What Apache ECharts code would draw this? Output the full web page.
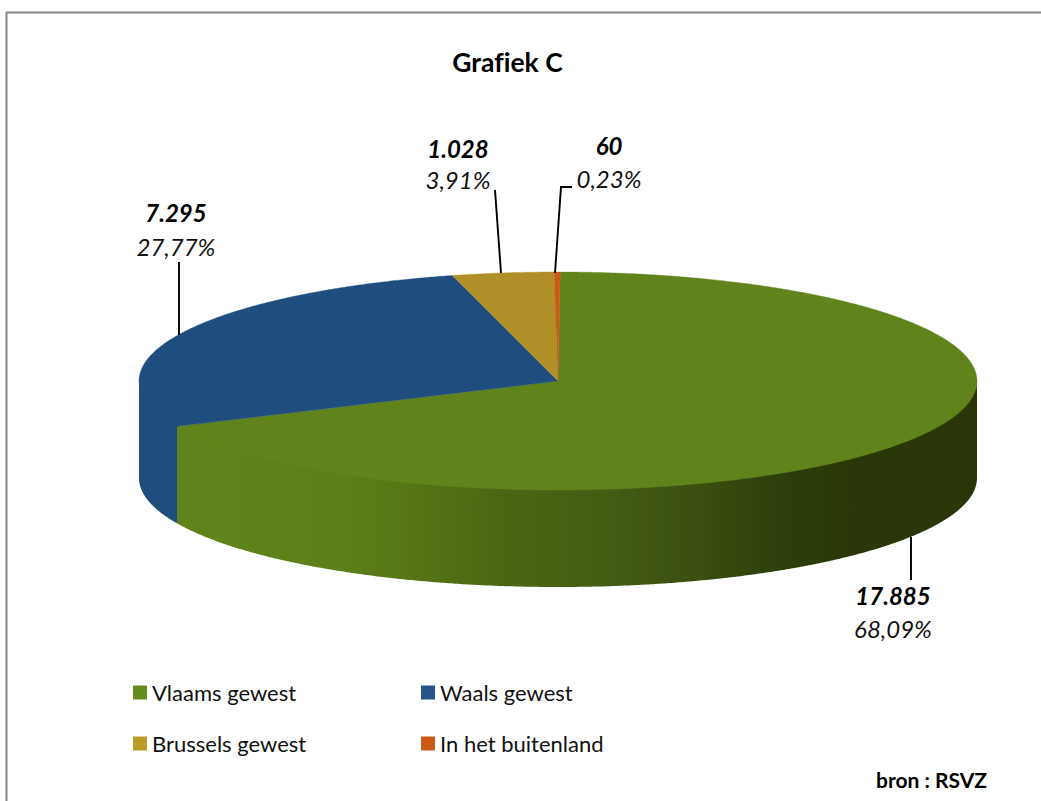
<!DOCTYPE html>
<html><head><meta charset="utf-8">
<style>html,body{margin:0;padding:0;background:#fff}#c{width:1041px;height:801px}
svg text{font-variant-ligatures:none !important}</style>
<script src="https://cdn.jsdelivr.net/npm/echarts@6/dist/echarts.min.js"></script>
</head><body><div id="c"></div>
<script>
const categories = ['Vlaams gewest', 'Waals gewest', 'Brussels gewest', 'In het buitenland'];
const values = [17885, 7295, 1028, 60];
const valueLabels = ['17.885', '7.295', '1.028', '60'];
const percentLabels = ['68,09%', '27,77%', '3,91%', '0,23%'];

const colors = ['#60841b', '#1f4e7e', '#b08f29', '#cb5a17'];
const legendColors = ['#668d1c', '#265489', '#bc9c28', '#cb5a17'];
const FONT = 'Lato, "Open Sans", sans-serif';
const pie = { cx: 558, cy: 381, rx: 419, ry: 109, depth: 97, startAngle: 0.3 };
// label anchors (layout only)
const labelLayout = [
  { x: 893, y1: 595, y2: 628, line: [[911, 537], [911, 580]] },
  { x: 176, y1: 212, y2: 246, line: [[179, 335], [179, 262]] },
  { x: 458, y1: 148, y2: 179, line: [[501, 273], [495, 190]] },
  { x: 609, y1: 145, y2: 178, line: [[555, 273], [561, 187], [572, 187]] }
];
const total = values.reduce((a, b) => a + b, 0);
function startOf(i) { return pie.startAngle + values.slice(0, i).reduce((a, b) => a + b, 0) / total * 360; }
function pt(deg, dy) {
  const t = deg * Math.PI / 180;
  return [pie.cx + pie.rx * Math.sin(t), pie.cy - pie.ry * Math.cos(t) + (dy || 0)];
}
function arc(a, b, dy) {
  const out = [], n = Math.max(2, Math.ceil(Math.abs(b - a) * 3));
  for (let k = 0; k <= n; k++) out.push(pt(a + (b - a) * k / n, dy));
  return out;
}
const wallGradient = new echarts.graphic.LinearGradient(177, 0, 978, 0, [
  { offset: 0, color: '#60841b' }, { offset: 0.2, color: '#5d7f19' },
  { offset: 0.28, color: '#587716' }, { offset: 0.4, color: '#4c6712' },
  { offset: 0.53, color: '#455d13' }, { offset: 0.65, color: '#3a4f10' },
  { offset: 0.75, color: '#2d3f0b' }, { offset: 0.85, color: '#2a3708' },
  { offset: 1, color: '#2a3608' }
], true);
wallGradient.global = true;
const wallFills = [wallGradient, '#1f4e7e', '#8a7020', '#a84a12'];

function makeRender(i) {
  return function (params, api) {
    const a = startOf(i), b = a + api.value(0) / total * 360;
    const children = [];
    // visible outer wall: the front half of the ellipse only (90deg..270deg)
    const wa = Math.max(a, 90), wb = Math.min(b, 270);
    if (wb > wa) {
      const pts = arc(wa, wb, -2).concat(arc(wb, wa, pie.depth));
      children.push({ type: 'polygon', shape: { points: pts }, style: { fill: wallFills[i], stroke: null } });
    }
    // top face
    const top = [[pie.cx, pie.cy]].concat(arc(a, b, 0));
    children.push({ type: 'polygon', shape: { points: top }, style: { fill: colors[i], stroke: colors[i], lineWidth: 0.4 } });
    // leader line + labels
    const L = labelLayout[i];
    children.push({ type: 'polyline', shape: { points: L.line }, style: { stroke: '#000', lineWidth: 1.9, fill: null } });
    children.push({ type: 'text', style: { x: L.x, y: L.y1, text: valueLabels[i], fill: '#000', font: 'italic bold 24px ' + FONT, align: 'center', verticalAlign: 'middle', textAlign: 'center', textVerticalAlign: 'middle' } });
    children.push({ type: 'text', style: { x: L.x, y: L.y2, text: percentLabels[i], fill: '#111', font: 'italic 24px ' + FONT, align: 'center', verticalAlign: 'middle', textAlign: 'center', textVerticalAlign: 'middle' } });
    return { type: 'group', children };
  };
}

const chart = echarts.init(document.getElementById('c'), null, { renderer: 'svg' });
chart.setOption({
  animation: false,
  backgroundColor: '#fff',
  title: { text: 'Grafiek C', left: 502.5, top: 43, textAlign: 'center',
    textStyle: { fontFamily: FONT, fontWeight: 'bold', fontSize: 26.5, color: '#000' } },
  legend: {
    left: 133, top: 680, width: 620, orient: 'horizontal', icon: 'rect',
    itemWidth: 14, itemHeight: 14, itemGap: 26, selectedMode: false,
    data: categories.map((name, i) => ({ name, itemStyle: { color: legendColors[i] } })),
    textStyle: { fontFamily: FONT, fontSize: 22, color: '#111', width: 243, height: 25, lineHeight: 25, padding: [0, 0, 0, 0] },
    padding: 0
  },
  graphic: [
    { type: 'rect', silent: true, z: -1, shape: { x: 6.5, y: 12.5, width: 1100, height: 900 },
      style: { fill: 'none', stroke: '#868686', lineWidth: 2 } },
    { type: 'text', left: 876, top: 769, style: { text: 'bron : RSVZ', fill: '#000', font: 'bold 21px ' + FONT } }
  ],
  series: categories.map((name, i) => ({
    type: 'custom', name, coordinateSystem: 'none',
    itemStyle: { color: legendColors[i] },
    data: [[values[i]]], renderItem: makeRender(i), silent: true
  }))
});
</script></body></html>
